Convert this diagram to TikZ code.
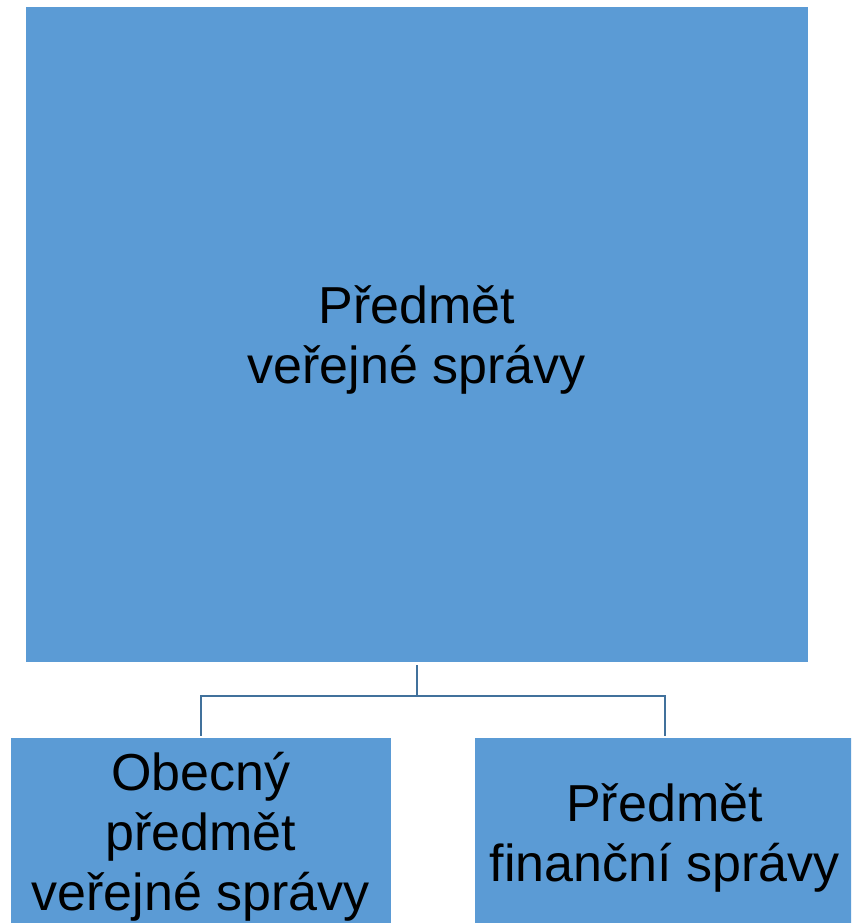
\documentclass[tikz,border=0pt]{standalone}
\usepackage{fontspec}
\setmainfont{Liberation Sans}
\definecolor{boxblue}{HTML}{5B9BD5}
\definecolor{linkblue}{HTML}{41719C}
\begin{document}
\begin{tikzpicture}[x=1pt,y=-1pt,
  box/.style={draw=none, fill=boxblue, inner sep=0pt, outer sep=0pt},
  lbl/.style={inner sep=0pt, align=center, font=\fontsize{52}{60}\selectfont, text=black},
  link/.style={draw=linkblue, line width=2pt}]
\useasboundingbox (0,0) rectangle (851,923);
\clip (0,0) rectangle (851,923);
\node[box, minimum width=782.5pt, minimum height=655pt] (top) at (416.75,334.5) {};
\node[box, minimum width=379.7pt, minimum height=190pt] (left) at (200.65,833) {};
\node[box, minimum width=380pt, minimum height=190pt] (right) at (664.5,833) {};
\node[lbl] (toptext) at ([yshift=-5pt]top.center) {Předmět\\veřejné správy};
\node[lbl] (lefttext) at ([yshift=-4pt]left.center) {Obecný\\předmět\\veřejné správy};
\node[lbl] (righttext) at ([yshift=-5pt]right.center) {Předmět\\finanční správy};
\draw[link, shorten <=3pt] (top.south) -- ++(0,33.5) coordinate (j);
\draw[link, shorten <=2.5pt, shorten >=2.5pt] (left.north) |- (j) -| (right.north);
\end{tikzpicture}
\end{document}
